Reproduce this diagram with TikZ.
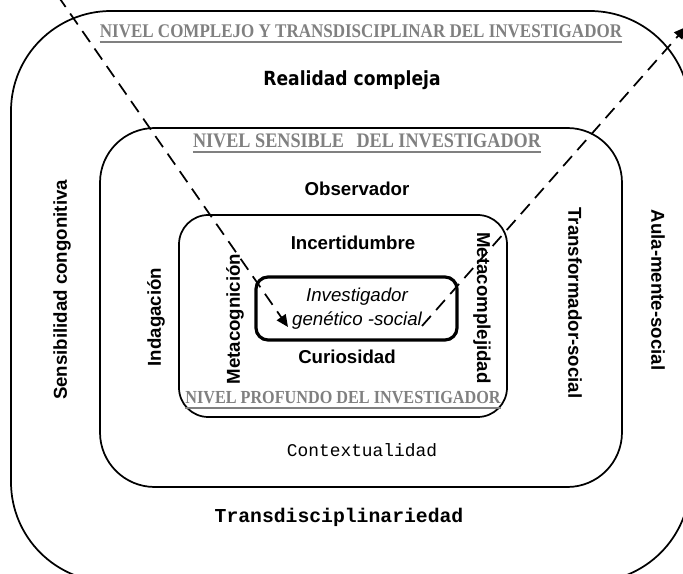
\documentclass[tikz,border=0pt]{standalone}
\usepackage{fontspec}
\setmainfont{Liberation Sans}
\newfontfamily\nivelfont[FakeStretch=0.88]{Liberation Serif}
\newfontfamily\tahomafont[FakeStretch=0.88]{DejaVu Sans}
\newfontfamily\monofont{Liberation Mono}
\usetikzlibrary{arrows.meta}
\definecolor{nivelgray}{RGB}{128,128,128}
\tikzset{
  box/.style={draw, line width=1.3pt, rectangle},
  lbl/.style={font=\fontsize{14}{16}\selectfont\bfseries, inner sep=0pt},
  nivel/.style={font=\nivelfont\bfseries, text=nivelgray, inner sep=0pt},
  nivelline/.style={nivelgray, line width=1.2pt},
  dasharrow/.style={line width=1.3pt, dash pattern=on 10pt off 6pt, -{Triangle[length=9pt,width=8pt]}},
}
\begin{document}
\begin{tikzpicture}[x=0.75pt,y=-0.75pt]
\useasboundingbox (0,0) rectangle (683,574);
\begin{scope}
\clip (0,0) rectangle (683,574);
% boxes
\node[box, rounded corners=75pt, minimum width=509.25pt, minimum height=428.25pt] (outer) at (350.5,296.5) {};
\node[box, rounded corners=41pt, minimum width=391.5pt, minimum height=269.25pt] (middle) at (361,307.5) {};
\node[box, rounded corners=22pt, minimum width=246pt, minimum height=151.5pt] (inner) at (343,316) {};
\node[box, line width=2.4pt, rounded corners=9pt, minimum width=150.75pt, minimum height=47.25pt] (core) at (356.5,308.5) {};

% nivel labels
\node[nivel, anchor=base] (n1) at (361,38) {\fontsize{14.5}{16}\selectfont NIVEL COMPLEJO Y TRANSDISCIPLINAR DEL INVESTIGADOR};
\draw[nivelline] ([yshift=-3.2pt]n1.base west) -- ([yshift=-3.2pt]n1.base east);
\node[nivel, anchor=base] (n2) at (367,148) {\fontsize{15.5}{17}\selectfont NIVEL SENSIBLE\hspace{0.6em}DEL INVESTIGADOR};
\draw[nivelline] ([yshift=-3.2pt]n2.base west) -- ([yshift=-3.2pt]n2.base east);
\node[nivel, anchor=base] (n3) at (343,404) {\fontsize{13.8}{16}\selectfont NIVEL PROFUNDO DEL INVESTIGADOR};
\draw[nivelline] ([yshift=-3.2pt]n3.base west) -- ([yshift=-3.2pt]n3.base east);

% horizontal labels
\node[inner sep=0pt, font=\tahomafont\fontsize{14.6}{16}\selectfont\bfseries] (real) at (352,80) {Realidad compleja};
\node[lbl] (obs) at (357,189) {Observador};
\node[lbl] (inc) at (353,243) {Incertidumbre};
\node[lbl] (cur) at (347,357) {Curiosidad};
\node[inner sep=0pt, font=\fontsize{14}{18}\selectfont\itshape, align=center] (inv) at (357,309) {Investigador\\genético -social};
\node[font=\monofont\fontsize{13.4}{16}\selectfont, inner sep=0pt] (ctx) at (362,450) {Contextualidad};
\node[font=\monofont\fontsize{14.8}{16}\selectfont\bfseries, inner sep=0pt] (trans) at (339,517) {Transdisciplinariedad};

% vertical labels
\node[lbl, rotate=90] (sens) at (62,290) {Sensibilidad congonitiva};
\node[lbl, rotate=90] (inda) at (156,317) {Indagación};
\node[lbl, rotate=90] (metc) at (235,319) {Metacognición};
\node[lbl, rotate=-90] (metx) at (482,308) {Metacomplejidad};
\node[lbl, rotate=-90] (tran) at (575,303) {Transformador-social};
\node[lbl, rotate=-90] (aula) at (658,290) {Aula-mente-social};

% dashed arrows
\coordinate (a1s) at (58,-4);
\coordinate (a1e) at (288,327);
\coordinate (a2s) at (422,326);
\coordinate (a2e) at (686,27);
\draw[dasharrow] (a1s) -- (a1e);
\draw[dasharrow] (a2s) -- (a2e);
\end{scope}
\end{tikzpicture}
\end{document}
